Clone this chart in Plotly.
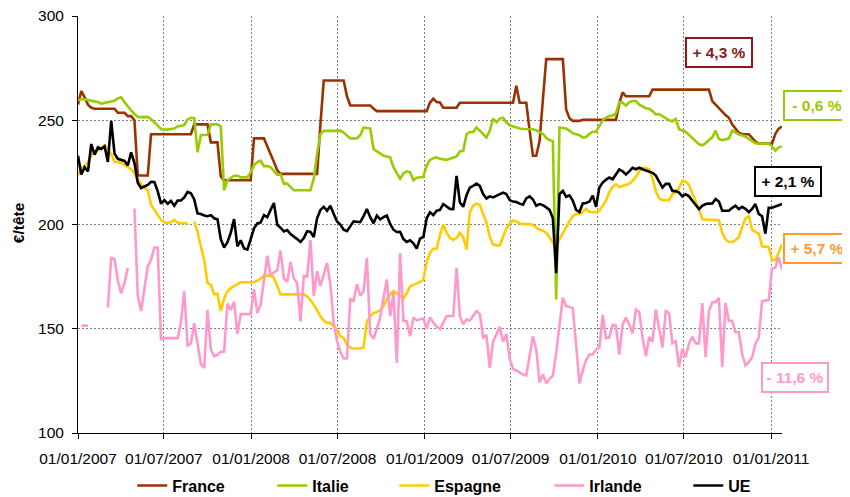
import pandas as pd
import plotly.graph_objects as go

# ---------------- data (weekly prices, €/tête) ----------------
start_date = "2007-01-01"

france = [
    257.5, 264, 261, 257.5, 256, 255.5, 255.5, 255.5, 255.5, 255.5,
    255.5, 255.5, 253.6, 253.6, 253.6, 252, 252, 250, 223.5, 223.5,
    223.5, 223.5, 243.3, 243.3, 243.3, 243.3, 243.3, 243.3, 243.3, 243.3,
    243.3, 243.3, 243.3, 243.3, 243.3, 248, 248, 248, 248, 248,
    239.4, 239.4, 239.4, 223, 221.2, 221.2, 221.2, 221.2, 221.2, 221.2,
    221.2, 221.2, 221.2, 241.3, 241.3, 241.3, 241.3, 237.5, 234, 230,
    226, 224.3, 224.3, 224.3, 224.3, 224.3, 224.3, 224.3, 224.3, 224.3,
    224.3, 224.3, 224.3, 248, 269.1, 269.1, 269.1, 269.1, 269.1, 269.1,
    269.1, 261.5, 257.1, 257.1, 257.1, 257.1, 257.1, 257.1, 257.1, 255.5,
    254.4, 254.4, 254.4, 254.4, 254.4, 254.4, 254.4, 254.4, 254.4, 254.4,
    254.4, 254.4, 254.4, 254.4, 254.4, 254.4, 258.5, 260.3, 258.7, 258.5,
    256, 256, 256, 256, 256, 258.4, 258.4, 258.4, 258.4, 258.4,
    258.4, 258.4, 258.4, 258.4, 258.4, 258.4, 258.4, 258.4, 258.4, 258.4,
    258.4, 258.4, 266.6, 258.4, 258.4, 258.4, 245, 233, 233, 240,
    260, 279.3, 279.3, 279.3, 279.3, 279.3, 279.3, 255.2, 251, 249.7,
    249.7, 249.7, 250.2, 250.2, 250.2, 250.2, 250.2, 250.2, 250.2, 250.2,
    250.2, 250.2, 250.2, 258, 263.4, 261.5, 261.5, 261.5, 261.5, 261.5,
    261.5, 261.5, 261.5, 264.7, 264.7, 264.7, 264.7, 264.7, 264.7, 264.7,
    264.7, 264.7, 264.7, 264.7, 264.7, 264.7, 264.7, 264.7, 264.7, 264.7,
    264.7, 259.2, 257.5, 255.5, 253.8, 252.5, 251.2, 248, 246, 244,
    243.3, 243.3, 243.3, 241.5, 239.8, 238.8, 238.8, 238.8, 238.8, 238.8,
    243.5, 246, 247,
]

italie = [
    259.4, 260.2, 260, 259.7, 259.5, 259, 258.7, 258, 258.3, 258.7,
    259, 259.3, 260.5, 261, 258.7, 256.5, 254.7, 253, 251.6, 251.5,
    251.5, 251.6, 250.5, 249.2, 247.5, 245.7, 245.5, 245.5, 245.8, 246,
    247, 247.3, 247.7, 250.4, 251.2, 251, 234.6, 242.8, 242.8, 243,
    248, 248, 248, 247, 216.4, 221.2, 222.5, 223.4, 223.4, 222.6,
    222.6, 222.6, 225, 228.6, 229.9, 230.6, 228, 228, 227.5, 225.9,
    223.8, 224, 219.6, 219.6, 218, 216.4, 216.4, 216.4, 216.4, 216.4,
    216.4, 222, 234, 243.3, 244.9, 244.9, 244.9, 245, 245.1, 245,
    244.1, 242.5, 241.3, 241.3, 241.3, 242.8, 246.5, 246.3, 246.1, 236.2,
    235, 234, 233, 232.6, 232.2, 227.5, 224.8, 222, 224.5, 225.5,
    225, 221.2, 222.4, 222.6, 222.8, 228.3, 231, 231.8, 232.2, 231.5,
    231.2, 231, 231.5, 232.2, 232.6, 235, 235.3, 243.3, 244.4, 244.4,
    246.5, 245, 243.5, 241.7, 244.9, 250.8, 249, 250.8, 251.2, 249,
    247.6, 247, 246.3, 246, 245.8, 245.7, 245.7, 245.7, 245.2, 244.5,
    243.5, 241.5, 240.5, 240, 164, 246.5, 246.2, 246, 245, 243.8,
    243.3, 242.8, 241.7, 242, 243.5, 244.5, 244.5, 247.5, 250, 251.3,
    252, 252.2, 253.3, 258.7, 258.5, 257, 258.7, 259.2, 259.2, 257.5,
    256.8, 255.8, 255.5, 254.4, 252.8, 253, 252, 251, 250, 249.5,
    250.7, 245.7, 245.2, 244.5, 243, 241.5, 240, 238.5, 238, 239,
    240.5, 241.8, 245, 241, 240.5, 240.7, 241.2, 245, 244, 243.2,
    242.7, 242.2, 241, 240, 239, 238.8, 238.8, 238.8, 238.8, 237.5,
    235.4, 237, 237.4,
]

espagne = [
    223.5, 227.5, 228, 230, 233, 235, 235.5, 237, 238, 236,
    233.8, 230, 230, 229.5, 228.6, 227.5, 226.5, 224.5, 221.5, 219.5,
    218, 216.4, 209.5, 207, 204.5, 202.2, 201, 200.6, 201.2, 202.2,
    200.8, 200.6, 200.6, 200.6, None, 201.4, 196.5, 189.5, 183, 172,
    171, 166.5, 166.8, 158.5, 164.5, 168, 169.5, 170.5, 171.5, 172.3,
    172.3, 172.3, 172.3, 172.3, 173, 174, 175.5, 175.5, 175.5, 174.5,
    170, 166.5, 166.5, 166.5, 166.5, 166.8, 166.8, 166.8, 166.5, 165.5,
    163.8, 161.5, 158.5, 156, 153.8, 152.8, 152.8, 151, 149.5, 146.5,
    145.5, 142.5, 141, 140.5, 140.5, 140.5, 141, 153.5, 156, 157.5,
    158, 159, 160.8, 164.4, 166.5, 168, 167, 165.5, 164.5, 167,
    170.3, 171, 171.5, 172.5, 173.5, 182, 186.5, 188.4, 188.4, 195,
    200, 196, 193.5, 192.7, 193.5, 196, 194, 188, 206, 209,
    210, 209.5, 205, 201, 194, 190.5, 190, 190, 194, 198,
    200.5, 201.8, 201.5, 200.5, 200.2, 200.2, 200.2, 199.8, 198.5, 197.5,
    197, 196, 193.8, 191.5, 189, 193, 196, 198.5, 201.5, 204,
    205, 205, 206, 207.5, 206, 205.9, 205.9, 206.5, 209, 211.4,
    215.5, 218, 219.3, 218, 218.5, 219, 219.5, 221, 222.8, 225.5,
    227.2, 227.2, 226.5, 222, 216, 212.5, 211.7, 211.7, 211.7, 214.5,
    215.5, 217.5, 221, 220.5, 219, 215, 211.5, 207.5, 202.5, 202.2,
    202.2, 202.2, 202.2, 202, 196, 192.8, 191.6, 191.6, 192.5, 194,
    198.7, 203, 204, 197.5, 196.5, 195.6, 189.5, 189.2, 189.2, 183,
    182.9, 186.5, 190.5,
]

irlande = [
    None, 151.5, 151.5, 151.5, None, None, None, None, None, 160.2,
    184, 183.5, 173, 167, 172, 179.2, None, 207.7, 165.8, 158.5,
    170, 180, 183, 189, 189, 145, 145.5, 145.5, 145.5, 145.5,
    145.5, 153, 168, 142, 143, 152.6, 142.5, 133, 131.2, 159,
    140, 136.8, 137.5, 139, 139, 162, 159, 163, 147.5, 157,
    157, 157, 157, 169, 157.5, 161.5, 174, 185, 175.5, 177,
    178, 187.5, 174, 172.5, 182, 174, 172, 153.5, 175.4, 175,
    192.5, 165.8, 177.6, 170.5, 176, 181.6, 171.3, 153, 144, 139,
    135.7, 135.7, 164.2, 163.5, 171.3, 165.8, 168, 184, 147.5, 145.2,
    150, 155.4, 165, 173.6, 156, 167.3, 133.6, 186.3, 153.8, 153.5,
    146.4, 155.4, 154, 154.5, 155, 150, 155.4, 153, 151, 149.8,
    153, 156.1, 156.1, 156.1, 179.2, 156, 152.2, 154.5, 154, 156,
    158.4, 157, 145.8, 147, 131.2, 143.8, 147, 150.9, 143.8, 147.5,
    135.7, 130.7, 130, 129, 128, 127.6, 136.6, 146.4, 140, 124.2,
    128.1, 123.8, 126, 127.5, 138.4, 152.2, 164.9, 160.9, 160.5, 159.9,
    142.4, 123.8, 130, 135, 137.6, 137.8, 140, 141, 156.7, 145.5,
    145.8, 151.9, 151.5, 137.6, 152, 155.4, 152, 147.8, 159.2, 158,
    146.2, 136.8, 146, 143.8, 159.2, 149.7, 141, 158.4, 157.5, 143,
    144, 131.6, 140.4, 136.4, 143, 146.2, 143, 143, 162.3, 136.4,
    158.4, 162.7, 162.7, 164.8, 131.6, 162.3, 153.8, 153.8, 148.3, 148.3,
    138, 132.4, 134, 136.4, 142.7, 145.8, 163.2, 163.5, 163.8, 178.9,
    179.3, 184.4, 178.4,
]

ue = [
    233, 224, 227.5, 225.5, 238.6, 233.5, 237, 236.2, 237.5, 230,
    249.7, 234, 231.5, 231, 230.5, 228.3, 234.6, 229.5, 220, 217.5,
    218.3, 219, 220.5, 220.4, 216, 210, 211.7, 210, 211.3, 209,
    211.5, 211.5, 213, 215.6, 215, 212, 205.3, 205, 204.3, 204,
    204.5, 203, 202.5, 193, 189, 191.5, 196, 202.6, 189.5, 192.4,
    188.5, 188, 193, 198.2, 200.5, 201, 204.5, 203.5, 207, 210.3,
    199.8, 198.5, 196.7, 197.3, 195.4, 194.3, 193, 191.6, 193.5, 196.8,
    196.5, 194, 203, 207, 208.5, 206.6, 209, 205, 201.5, 200,
    197.5, 196.8, 199.5, 201.5, 201.3, 201.1, 204, 207.4, 203.5, 200.6,
    204.3, 202.5, 203.5, 204.3, 200.3, 197.5, 196.4, 196.5, 193, 191.6,
    192.4, 191, 188.4, 193.2, 194, 203, 205.9, 204.5, 206.6, 207,
    209.8, 208.5, 207.5, 207.4, 223.3, 210.6, 208.5, 214, 217.7, 218.5,
    219.6, 218.5, 214.6, 212.5, 213.5, 213, 213.8, 214.5, 215.3, 214.6,
    211.7, 211, 210.8, 210, 209.5, 212.5, 213.5, 212, 209, 209.8,
    209.3, 208.2, 207, 203, 176.6, 214.6, 216.1, 213.3, 214, 211.5,
    207, 206, 210.1, 210.3, 211, 213.8, 208.5, 217.7, 220.1, 221.5,
    222.5, 221.7, 224.4, 226.4, 225.5, 224, 225.5, 227.2, 226.5, 227.2,
    226.5, 226, 225.6, 224.8, 223.5, 220.5, 217.7, 219.5, 219.5, 216.1,
    216, 215.3, 213.5, 214.5, 213.5, 211.4, 209.5, 207.4, 209, 209.8,
    210, 210.1, 212.2, 211, 206.6, 206.6, 206.6, 208, 209, 207.4,
    208.5, 207.5, 205.9, 207.5, 209.8, 205.1, 204, 195.6, 208, 208,
    208.5, 209, 209.8,
]

series_names = ["France", "Italie", "Espagne", "Irlande", "UE"]
series_values = [france, italie, espagne, irlande, ue]

pct_texts = ["+ 4,3 %", "- 0,6 %", "+ 2,1 %", "+ 5,7 %", "- 11,6 %"]

y_ticks = [100, 150, 200, 250, 300]

# ---------------- styles / positions ----------------
series_colors = ["#993300", "#99CC00", "#FFCC00", "#FF99CC", "#000000"]
legend_widths = [95, 77, 110, 94, 40]
pct_colors = ["#8B1A1A", "#99CC00", "#000000", "#FF9933", "#FF99CC"]
# box centres in pixel coordinates of the target picture
pct_px = [(719, 52.5), (817, 105), (787.5, 181), (817, 248.5), (795, 377.5)]

W, H = 850, 497
OFF = 8  # the page body adds an 8 px margin around the figure
L, R, T, B = 77.7 - OFF, 781.7 - OFF, 15.5 - OFF, 433.3 - OFF  # plot-area edges
FONT = "Liberation Sans, Arial, sans-serif"


def px_to_paper(px, py):
    px, py = px - OFF, py - OFF
    return (px - L) / (R - L), (B - py) / (B - T)


fig = go.Figure()
for name, vals, col, lw in zip(series_names, series_values, series_colors, legend_widths):
    dates = pd.date_range(start_date, periods=len(vals), freq="7D")
    fig.add_trace(go.Scatter(
        x=dates, y=vals, mode="lines", name=name,
        line=dict(color=col, width=2.6), connectgaps=False,
        legendwidth=lw,
    ))

annotations = []
for txt, col, (px, py) in zip(pct_texts, pct_colors, pct_px):
    ax, ay = px_to_paper(px, py)
    annotations.append(dict(
        text=txt, x=ax, y=ay, xref="paper", yref="paper",
        xanchor="center", yanchor="middle", showarrow=False,
        font=dict(family=FONT, size=15.5, color=col, weight="bold"),
        bordercolor=col, borderwidth=2, borderpad=2,
        width=60, height=23, bgcolor="white",
    ))

tx, ty = px_to_paper(19, 222.8)
annotations.append(dict(
    text="€/tête", x=tx, y=ty, xref="paper", yref="paper",
    xanchor="center", yanchor="middle", showarrow=False, textangle=-90,
    font=dict(family=FONT, size=15.5, color="black", weight="bold"),
))

lx, ly = px_to_paper(132, 486)

fig.update_layout(
    width=W, height=H,
    margin=dict(l=L, r=W - R, t=T, b=H - B, pad=0, autoexpand=False),
    paper_bgcolor="white", plot_bgcolor="white",
    font=dict(family=FONT, size=15.5, color="black"),
    annotations=annotations,
    showlegend=True,
    legend=dict(
        orientation="h", x=lx, y=ly, xanchor="left", yanchor="middle",
        font=dict(family=FONT, size=16, color="black", weight="bold"),
        bgcolor="rgba(0,0,0,0)", borderwidth=0, traceorder="normal",
    ),
    xaxis=dict(
        type="date", range=["2007-01-01", "2011-01-24"],
        tick0="2007-01-01", dtick="M6", tickformat="%d/%m/%Y",
        showline=True, linecolor="black", linewidth=1,
        ticks="outside", ticklen=5, tickcolor="black", tickwidth=1,
        showgrid=True, gridcolor="#808080", gridwidth=1, griddash="2px,2px",
        zeroline=False, ticklabelstandoff=6, automargin=False,
        ticklabeloverflow="allow",
        tickfont=dict(family=FONT, size=15.5, color="black"),
    ),
    yaxis=dict(
        range=[100, 300], tickvals=y_ticks,
        showline=True, linecolor="black", linewidth=1,
        ticks="outside", ticklen=5, tickcolor="black", tickwidth=1,
        showgrid=True, gridcolor="#808080", gridwidth=1, griddash="2px,2px",
        zeroline=False, ticklabelstandoff=5, automargin=False,
        ticklabeloverflow="allow",
        tickfont=dict(family=FONT, size=15.5, color="black"),
    ),
)

fig.write_html("out.html")
